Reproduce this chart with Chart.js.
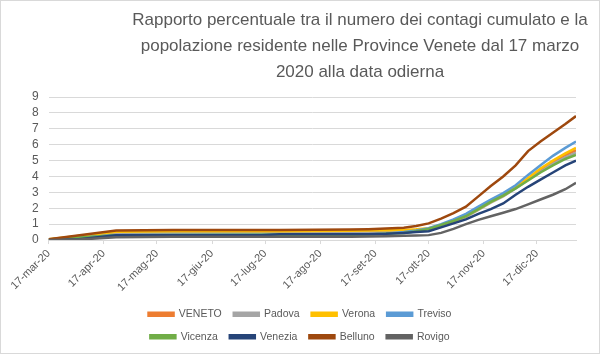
<!DOCTYPE html>
<html>
<head>
<meta charset="utf-8">
<script src="https://cdn.jsdelivr.net/npm/chart.js@4/dist/chart.umd.min.js"></script>
<style>
  html, body { margin: 0; padding: 0; background: #ffffff; }
  #wrap { width: 600px; height: 354px; position: relative; }
</style>
</head>
<body>
<div id="wrap"><canvas id="c" width="600" height="354"></canvas></div>
<script>
// ---- data (days counted from 17-mar-2020) ----
const days    = [0,    17,   38,   70,   120,  130,  170,  180,  190,  200,  207,  214,  221,  228,  235,  242,  249,  256,  263,  270,  277,  284,  291,  297];
const veneto  = [0.04, null, 0.40, 0.43, 0.44, 0.44, 0.47, 0.48, 0.50, 0.55, 0.60, 0.70, 0.92, 1.20, 1.50, 1.95, 2.40, 2.80, 3.30, 3.85, 4.40, 4.90, 5.35, 5.65];
const padova  = [0.04, null, 0.42, 0.45, 0.46, 0.46, 0.48, 0.50, 0.52, 0.56, 0.60, 0.70, 0.90, 1.15, 1.45, 1.90, 2.35, 2.75, 3.25, 3.80, 4.30, 4.80, 5.20, 5.50];
const verona  = [0.05, null, 0.52, 0.55, 0.56, 0.56, 0.58, 0.60, 0.61, 0.63, 0.68, 0.75, 0.95, 1.20, 1.50, 1.95, 2.40, 2.80, 3.30, 3.90, 4.50, 5.00, 5.45, 5.80];
const treviso = [0.03, null, 0.30, 0.32, 0.33, 0.33, 0.34, 0.35, 0.40, 0.50, 0.60, 0.75, 1.00, 1.30, 1.65, 2.10, 2.55, 2.95, 3.45, 4.10, 4.70, 5.30, 5.80, 6.20];
const vicenza = [0.03, null, 0.30, 0.32, 0.33, 0.33, 0.34, 0.35, 0.40, 0.45, 0.55, 0.70, 0.95, 1.20, 1.50, 1.95, 2.40, 2.80, 3.25, 3.75, 4.25, 4.70, 5.10, 5.35];
const venezia = [0.02, 0.05, 0.30, 0.31, 0.31, 0.36, 0.37, 0.37, 0.39, 0.45, 0.50, 0.56, 0.80, 1.05, 1.30, 1.65, 1.95, 2.30, 2.85, 3.35, 3.80, 4.25, 4.70, 5.00];
const belluno = [0.05, null, 0.60, 0.64, 0.64, 0.64, 0.66, 0.68, 0.72, 0.78, 0.88, 1.05, 1.35, 1.70, 2.10, 2.75, 3.40, 4.00, 4.70, 5.60, 6.20, 6.75, 7.30, 7.80];
const rovigo  = [0.01, 0.03, 0.18, 0.20, 0.20, 0.20, 0.21, 0.22, 0.24, 0.27, 0.29, 0.31, 0.45, 0.70, 1.00, 1.27, 1.50, 1.72, 1.95, 2.25, 2.55, 2.85, 3.20, 3.60];

const seriesNames = ["VENETO", "Padova", "Verona", "Treviso", "Vicenza", "Venezia", "Belluno", "Rovigo"];
const seriesValues = [veneto, padova, verona, treviso, vicenza, venezia, belluno, rovigo];
const seriesColors = ["#ED7D31", "#A5A5A5", "#FFC000", "#5B9BD5", "#70AD47", "#264478", "#9E480E", "#636363"];

const tickDays   = [0, 31, 61, 92, 122, 153, 184, 214, 245, 275];
const tickLabels = ["17-mar-20", "17-apr-20", "17-mag-20", "17-giu-20", "17-lug-20", "17-ago-20", "17-set-20", "17-ott-20", "17-nov-20", "17-dic-20"];
const yTicks = [0, 1, 2, 3, 4, 5, 6, 7, 8, 9];
const xMax = 297;

const titleLines = [
  "Rapporto percentuale tra il numero dei contagi cumulato e la",
  "popolazione residente nelle Province Venete dal 17 marzo",
  "2020 alla data odierna"
];

const LEGEND_W = 340;

const datasets = seriesNames.map((name, i) => ({
  label: name,
  data: days.map((d, k) => ({ x: d, y: seriesValues[i][k] })),
  borderColor: seriesColors[i],
  backgroundColor: seriesColors[i],
  borderWidth: 2.5,
  pointRadius: 0,
  tension: 0,
  spanGaps: true,
  order: seriesNames.length - i
}));

const layoutHack = {
  id: 'layoutHack',
  beforeLayout(chart) {
    const lg = chart.legend;
    if (lg && !lg._patched) {
      const origFit = lg.fit;
      lg.fit = function () {
        const mw = this.maxWidth;
        this.maxWidth = LEGEND_W;
        origFit.call(this);
        this.maxWidth = mw;
        this.width = mw;
      };
      lg._patched = true;
    }
  },
  afterLayout(chart) {
    const lg = chart.legend;
    if (lg) {
      lg.left = (600 - LEGEND_W) / 2;
      lg.right = lg.left + LEGEND_W;
      lg.width = LEGEND_W;
    }
    const t = chart.titleBlock;
    if (t) {
      t.left = 120;
      t.right = 600;
      t.width = 480;
    }
  },
  beforeDraw(chart) {
    const ctx = chart.ctx;
    ctx.save();
    ctx.fillStyle = '#ffffff';
    ctx.fillRect(0, 0, chart.width, chart.height);
    ctx.strokeStyle = '#d9d9d9';
    ctx.lineWidth = 1;
    ctx.strokeRect(0.5, 0.5, chart.width - 1, chart.height - 1);
    ctx.restore();
  }
};

new Chart(document.getElementById('c'), {
  type: 'line',
  data: { datasets },
  plugins: [layoutHack],
  options: {
    responsive: false,
    animation: false,
    events: [],
    layout: { padding: { left: 22, right: 24, top: 0, bottom: 2 } },
    plugins: {
      title: {
        display: true,
        text: titleLines,
        color: '#595959',
        font: { family: 'Liberation Sans', size: 17, weight: 'normal', lineHeight: 1.53 },
        padding: { top: 7, bottom: 12 }
      },
      legend: {
        display: true,
        position: 'bottom',
        labels: {
          color: '#595959',
          font: { family: 'Liberation Sans', size: 10.5 },
          boxWidth: 25,
          boxHeight: 3,
          padding: 12,
          sort: (a, b) => a.datasetIndex - b.datasetIndex
        }
      },
      tooltip: { enabled: false }
    },
    scales: {
      x: {
        type: 'linear',
        min: 0,
        max: xMax,
        afterBuildTicks: (scale) => { scale.ticks = tickDays.map(v => ({ value: v })); },
        ticks: {
          autoSkip: false,
          minRotation: 45,
          maxRotation: 45,
          color: '#595959',
          font: { family: 'Liberation Sans', size: 11 },
          callback: (v) => { const i = tickDays.indexOf(v); return i >= 0 ? tickLabels[i] : ''; }
        },
        grid: { drawOnChartArea: false, drawTicks: true, tickLength: 4, color: '#d9d9d9' },
        border: { color: '#d9d9d9' }
      },
      y: {
        min: 0,
        max: 9,
        afterBuildTicks: (scale) => { scale.ticks = yTicks.map(v => ({ value: v })); },
        ticks: {
          autoSkip: false,
          color: '#595959',
          font: { family: 'Liberation Sans', size: 12 },
          padding: 10
        },
        grid: { color: '#d9d9d9', drawTicks: false },
        border: { display: false }
      }
    }
  }
});
</script>
</body>
</html>
